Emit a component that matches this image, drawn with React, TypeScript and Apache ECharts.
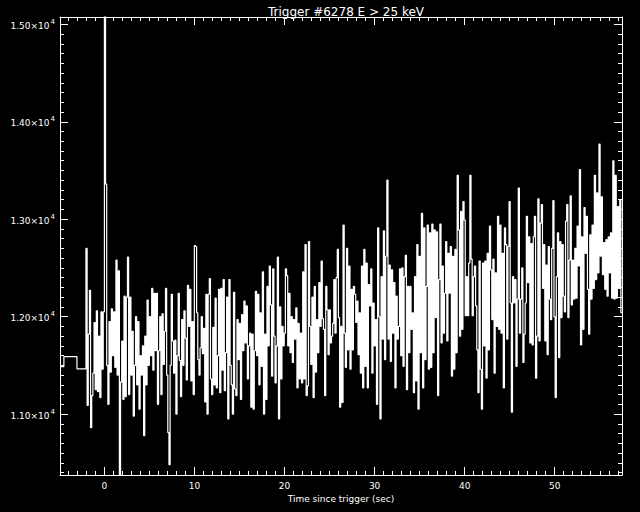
import React, { useEffect, useRef } from "react";
import * as echarts from "echarts";

// ---- Chart text ----
const titleText = "Trigger #6278 E > 25 keV";
const xTitle = "Time since trigger (sec)";
const yTitle = "Rate (counts s\u207B\u00B9)";

// ---- Axis ranges and ticks ----
const xMin = -4.93;
const xMax = 57.47;
const yMin = 10375;
const yMax = 15075;
const xMajorTicks = [0, 10, 20, 30, 40, 50];
const xMinorTicks = [-4, -3, -2, -1, 1, 2, 3, 4, 5, 6, 7, 8, 9, 11, 12, 13, 14, 15, 16, 17, 18, 19, 21, 22, 23, 24, 25, 26, 27, 28, 29, 31, 32, 33, 34, 35, 36, 37, 38, 39, 41, 42, 43, 44, 45, 46, 47, 48, 49, 51, 52, 53, 54, 55, 56, 57];
const yMajorTicks = [11000, 12000, 13000, 14000, 15000];
const yTickMantissas = ["1.10", "1.20", "1.30", "1.40", "1.50"];
const yMinorTicks = [10400, 10500, 10600, 10700, 10800, 10900, 11100, 11200, 11300, 11400, 11500, 11600, 11700, 11800, 11900, 12100, 12200, 12300, 12400, 12500, 12600, 12700, 12800, 12900, 13100, 13200, 13300, 13400, 13500, 13600, 13700, 13800, 13900, 14100, 14200, 14300, 14400, 14500, 14600, 14700, 14800, 14900];

// ---- Data: coarse pre-trigger bins (start times, rates) ----
const preTimes = [-4.93, -4.5, -3.05];
const preRates = [11488, 11590, 11465];

// ---- Data: fine-resolution bins ----
const fineStart = -2.048;
const fineWidth = 0.128;
const fineRates = [
  12700, 11090, 11820, 12270, 10860, 11190, 11420, 11940, 11250, 12060, 11230, 11800, 11170, 12050, 11460, 12050,
  15500,
  13360, 11500, 11100, 11950, 11430, 12080, 11600, 12050, 11480, 12580, 11400, 12470, 10300,
  11330, 11750, 11150, 12210, 11180, 12200, 12610, 11200, 12200, 11400,
  11850, 10980, 11500, 12000, 11300, 11950, 11050, 11600, 11400, 11700,
  10780, 11800, 11300, 12170, 11500, 12000, 11600, 12290, 11450, 12240,
  11650, 12240, 11100, 11650, 12000, 11200, 12030, 11510, 11850, 12290,
  11400, 10810, 10480, 11500, 12230, 11750, 11420, 11760, 11000, 11600,
  12240, 11550, 11180, 11970, 11500, 12060, 11780, 11350, 12320, 11900,
  12280, 11340, 11950, 11200, 12730,
  12720, 12040, 11560, 11400, 11680, 12000, 11620, 11880, 11125, 12230,
  11000, 12230, 12390, 11360, 11200, 11890, 11300, 12190, 11270, 11600,
  12280, 11220, 12290, 11450, 12380, 11240, 11630, 12200, 10950, 12380,
  11500, 11300, 11000, 12250, 11260, 11190, 11970, 11560, 11930, 11150,
  12020, 11650, 12160, 11730, 12110, 11360, 11700, 11830, 11070, 11820,
  11050, 11650, 12260, 11600, 12230, 11300, 12040, 11490, 12460, 11000,
  11820, 11150, 12310, 11700, 12520, 12120, 11390, 12490, 11800, 11320,
  11700, 12610, 10950, 12100, 11360, 11900, 11700, 11830, 12490, 12420,
  11700, 12240, 11630, 12000, 11530, 11970, 11770, 12090, 11270, 11930,
  11360, 11830, 11320, 12460,
  11360, 12740, 11190, 11290, 12770, 11900, 11510, 12200, 11170, 12310,
  11430, 11970, 11630, 12350, 11900, 12570, 11980, 11870, 11190, 12310,
  12070, 11610, 12070, 11730, 11800, 11930, 12380, 11830, 12400, 12690,
  11990, 11070, 11900, 11120, 12940, 11830, 11480, 12700, 11660, 12520,
  11460, 12280, 11660, 12310, 12230, 11940, 12160, 11610, 12040, 11420,
  12520, 11270, 12690, 11490, 12550, 11270, 12330, 12110, 12490, 11420,
  12140, 11700, 11970, 11100, 12910, 12000, 10950, 12410, 11770, 12880,
  11560, 12620, 13400, 11770, 12530, 11540, 12480, 11830, 12350, 11270,
  12210, 11770, 11900, 12490, 11600, 12500, 11490, 12410, 12630, 11250,
  12310, 11630, 12310, 11870, 12040, 11220, 12410,
  11340, 12740, 11050, 12620, 11630, 13060, 11270, 12910, 11560, 12310,
  12940, 11460, 12860, 11480, 12950, 11630, 12890, 11990, 12870, 11190,
  12380, 12950, 11730, 12520, 11830, 12240, 12770, 11750, 12650, 12240,
  12720, 11390, 12620, 11460, 12690, 11630, 13450, 12890, 11800, 13080,
  11870, 13180, 12990, 12010, 12410, 12010, 12550, 13450, 12590, 12010,
  12410, 12520, 12110, 11660, 11220, 12570, 11460, 11050, 12550, 11700,
  12570, 11370, 12650, 11660, 12930, 12480, 11970, 12590, 11420, 12450,
  11900, 13030, 11870, 12940, 11830, 12650, 11270, 12910, 12740, 11770,
  12720, 13180, 12140, 11020, 12410, 12140, 12380, 11490, 12180, 13320,
  11830, 12180, 12500, 11530,
  11820, 12140, 13030, 12350, 12820, 11730, 12750, 11710, 12820, 13030,
  11370, 11800, 13210, 11750, 12960, 13150, 12290, 12740, 11750, 12530,
  11610, 12720, 12180, 11970, 12700, 13190, 12000, 11170, 12410, 12860,
  11580, 12770, 11990, 12740, 12210, 12050, 12980, 13150, 11990, 12580,
  13240, 12120, 12580, 12180, 12700, 12190, 12930, 12520, 13510, 11710,
  12820, 11870, 13120, 12650, 13030, 12280, 11820, 12840, 12180, 12940,
  12290, 13450, 12380, 13270, 12450, 13770, 12620, 13230, 12430, 12760,
  12280, 12790, 12210, 12820, 12450, 12860, 12190, 13600, 12180, 13450,
  12190, 13130, 12290, 13200, 12040,
];

const FONT = "DejaVu Sans";
const WHITE = "#ffffff";

function buildSeriesData(): [number, number][] {
  const pts: [number, number][] = [];
  for (let i = 0; i < preTimes.length; i++) pts.push([preTimes[i], preRates[i]]);
  for (let i = 0; i < fineRates.length; i++) {
    pts.push([+(fineStart + i * fineWidth).toFixed(4), fineRates[i]]);
  }
  const last = fineRates[fineRates.length - 1];
  pts.push([+(fineStart + fineRates.length * fineWidth).toFixed(4), last]);
  return pts;
}

export default function App() {
  const ref = useRef<HTMLDivElement>(null);

  useEffect(() => {
    if (!ref.current) return;
    const chart = echarts.init(ref.current, undefined, { renderer: "svg" });

    const lineStyle = { color: WHITE, width: 1 };
    const baseX = (position: "bottom" | "top") => ({
      type: "value" as const,
      position,
      min: xMin,
      max: xMax,
      splitLine: { show: false },
      axisLine: { show: true, onZero: false, lineStyle },
    });
    const baseY = (position: "left" | "right") => ({
      type: "value" as const,
      position,
      min: yMin,
      max: yMax,
      splitLine: { show: false },
      axisLine: { show: true, onZero: false, lineStyle },
    });

    const labelMap: Record<number, string> = {};
    yMajorTicks.forEach((v, i) => (labelMap[v] = yTickMantissas[i]));

    chart.setOption({
      animation: false,
      backgroundColor: "#000000",
      title: {
        text: titleText,
        left: 341,
        textAlign: "center",
        top: 1,
        textStyle: { color: WHITE, fontSize: 12, fontWeight: "normal", fontFamily: FONT },
      },
      grid: { left: 60, right: 18, top: 17, bottom: 37, containLabel: false, outerBoundsMode: "none" },
      xAxis: [
        {
          ...baseX("bottom"),
          name: xTitle,
          nameLocation: "middle",
          nameGap: 18,
          nameTextStyle: { color: WHITE, fontSize: 9, fontFamily: FONT, verticalAlign: "top" },
          axisTick: { show: true, inside: true, length: 8, customValues: xMajorTicks, lineStyle },
          axisLabel: {
            show: true,
            customValues: xMajorTicks,
            color: WHITE,
            fontSize: 9,
            fontFamily: FONT,
            margin: 6,
          },
        },
        {
          ...baseX("bottom"),
          axisLine: { show: false, onZero: false },
          axisTick: { show: true, inside: true, length: 4, customValues: xMinorTicks, lineStyle },
          axisLabel: { show: false },
        },
        {
          ...baseX("top"),
          axisTick: { show: true, inside: true, length: 8, customValues: xMajorTicks, lineStyle },
          axisLabel: { show: false },
        },
        {
          ...baseX("top"),
          axisLine: { show: false, onZero: false },
          axisTick: { show: true, inside: true, length: 4, customValues: xMinorTicks, lineStyle },
          axisLabel: { show: false },
        },
      ],
      yAxis: [
        {
          ...baseY("left"),
          name: yTitle,
          nameLocation: "middle",
          nameGap: 61,
          nameTextStyle: { color: WHITE, fontSize: 9, fontFamily: FONT },
          axisTick: { show: true, inside: true, length: 8, customValues: yMajorTicks, lineStyle },
          axisLabel: {
            show: true,
            customValues: yMajorTicks,
            margin: 5,
            formatter: (v: number) => `{m|${labelMap[v] ?? ""}\u00D710}{s|4}`,
            rich: {
              m: { color: WHITE, fontSize: 9, fontFamily: FONT, lineHeight: 12, verticalAlign: "bottom" },
              s: { color: WHITE, fontSize: 7, fontFamily: FONT, lineHeight: 12, verticalAlign: "top", padding: [0, 0, 0, 1] },
            },
          },
        },
        {
          ...baseY("left"),
          axisLine: { show: false, onZero: false },
          axisTick: { show: true, inside: true, length: 4, customValues: yMinorTicks, lineStyle },
          axisLabel: { show: false },
        },
        {
          ...baseY("right"),
          axisTick: { show: true, inside: true, length: 8, customValues: yMajorTicks, lineStyle },
          axisLabel: { show: false },
        },
        {
          ...baseY("right"),
          axisLine: { show: false, onZero: false },
          axisTick: { show: true, inside: true, length: 4, customValues: yMinorTicks, lineStyle },
          axisLabel: { show: false },
        },
      ],
      series: [
        {
          type: "line",
          xAxisIndex: 0,
          yAxisIndex: 0,
          step: "end",
          showSymbol: false,
          symbol: "none",
          clip: true,
          lineStyle: { color: WHITE, width: 1.2 },
          data: buildSeriesData(),
        },
      ],
    });

    return () => chart.dispose();
  }, []);

  return (
    <div
      ref={ref}
      style={{ position: "fixed", left: 0, top: 0, width: 640, height: 512, background: "#000" }}
    />
  );
}
